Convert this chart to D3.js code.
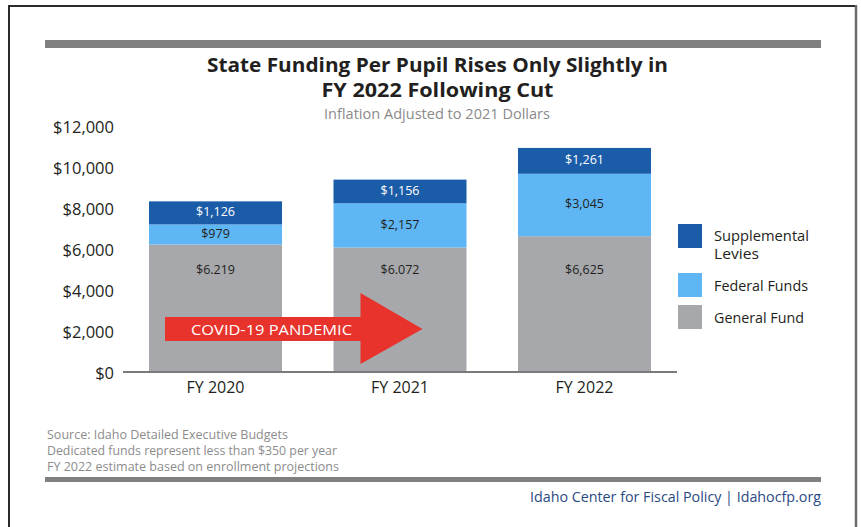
<!DOCTYPE html>
<html>
<head>
<meta charset="utf-8">
<script src="https://cdn.jsdelivr.net/npm/d3@7"></script>
<style>
  html, body { margin: 0; padding: 0; background: #fff; }
  svg { display: block; font-family: "Open Sans", "Noto Sans", sans-serif; }
</style>
</head>
<body>
<svg id="chart" width="861" height="527"></svg>
<script>
// Per-pupil state funding, inflation adjusted to 2021 dollars
const years = ["FY 2020", "FY 2021", "FY 2022"];
const generalFund = [6219, 6072, 6625];
const federalFunds = [979, 2157, 3045];
const supplementalLevies = [1126, 1156, 1261];

// Value labels as printed on the bars
const generalLabels = ["$6.219", "$6.072", "$6,625"];
const federalLabels = ["$979", "$2,157", "$3,045"];
const leviesLabels = ["$1,126", "$1,156", "$1,261"];

const yTicks = [0, 2000, 4000, 6000, 8000, 10000, 12000];

const seriesNames = ["General Fund", "Federal Funds", "Supplemental Levies"];
const seriesColors = ["#a7a8ab", "#5eb6f5", "#1b5ca9"];

const titleLines = ["State Funding Per Pupil Rises Only Slightly in", "FY 2022 Following Cut"];
const subtitle = "Inflation Adjusted to 2021 Dollars";
const notes = [
  "Source: Idaho Detailed Executive Budgets",
  "Dedicated funds represent less than $350 per year",
  "FY 2022 estimate based on enrollment projections"
];
const credit = "Idaho Center for Fiscal Policy | Idahocfp.org";
const arrowText = "COVID-19 PANDEMIC";

const svg = d3.select("#chart");

// squeeze text to a given rendered width
function fit(sel, w) {
  sel.attr("textLength", w).attr("lengthAdjust", "spacingAndGlyphs");
  return sel;
}

// frame
svg.append("line").attr("x1", 9).attr("x2", 857).attr("y1", 6).attr("y2", 6)
  .attr("stroke", "#2b2b2b").attr("stroke-width", 2);
svg.append("line").attr("x1", 9).attr("x2", 9).attr("y1", 5).attr("y2", 527)
  .attr("stroke", "#2b2b2b").attr("stroke-width", 2);
svg.append("line").attr("x1", 856).attr("x2", 856).attr("y1", 5).attr("y2", 527)
  .attr("stroke", "#6a6a6a").attr("stroke-width", 2.5);

// header rule
svg.append("rect").attr("x", 45).attr("y", 40).attr("width", 776).attr("height", 8).attr("fill", "#808080");

// title
const titleY = [72, 97];
const titleW = [461, 232];
titleLines.forEach((t, i) => {
  fit(svg.append("text")
    .attr("x", 437.5).attr("y", titleY[i])
    .attr("text-anchor", "middle")
    .attr("font-size", 20).attr("font-weight", 700)
    .attr("fill", "#231f20")
    .text(t), titleW[i]);
});
fit(svg.append("text")
  .attr("x", 437).attr("y", 119)
  .attr("text-anchor", "middle")
  .attr("font-size", 14).attr("fill", "#8a8a8a")
  .text(subtitle), 226);

// scales
const x = d3.scaleBand().domain(years).range([123, 677]).paddingInner(0.279).paddingOuter(0.141);
const y = d3.scaleLinear().domain([0, 12000]).range([372, 126]);

// stacked data
const rows = years.map((yr, i) => ({
  year: yr,
  "General Fund": generalFund[i],
  "Federal Funds": federalFunds[i],
  "Supplemental Levies": supplementalLevies[i]
}));
const stack = d3.stack().keys(seriesNames)(rows);
const labelSets = [generalLabels, federalLabels, leviesLabels];
const labelColors = ["#231f20", "#231f20", "#ffffff"];

const gBars = svg.append("g");
stack.forEach((layer, si) => {
  gBars.selectAll(null).data(layer).enter().append("rect")
    .attr("x", d => x(d.data.year))
    .attr("width", x.bandwidth())
    .attr("y", d => y(d[1]))
    .attr("height", d => y(d[0]) - y(d[1]))
    .attr("fill", seriesColors[si]);
});

// baseline
svg.append("line").attr("x1", 123).attr("x2", 677)
  .attr("y1", y(0)).attr("y2", y(0))
  .attr("stroke", "#7a7a7a").attr("stroke-width", 2);

// y axis labels
const yAxis = d3.axisLeft(y).tickValues(yTicks).tickSize(0).tickPadding(9)
  .tickFormat(d => "$" + d3.format(",")(d));
const gy = svg.append("g").attr("transform", "translate(123,1.5)").call(yAxis);
gy.select(".domain").remove();
gy.selectAll("text").attr("font-size", 16.5).attr("fill", "#231f20")
  .attr("font-family", "'Open Sans', sans-serif");

// x axis labels
const xAxis = d3.axisBottom(x).tickSize(0).tickPadding(10);
const gx = svg.append("g").attr("transform", `translate(0,${y(0)})`).call(xAxis);
gx.select(".domain").remove();
gx.selectAll("text").attr("font-size", 16).attr("fill", "#231f20")
  .attr("font-family", "'Open Sans', sans-serif");

// value labels: general fund labels sit at a common height, others centered in segment
stack.forEach((layer, si) => {
  svg.selectAll(null).data(layer).enter().append("text")
    .attr("x", d => x(d.data.year) + x.bandwidth() / 2)
    .attr("y", d => si === 0 ? y(5000) : y((d[0] + d[1]) / 2) - 1)
    .attr("dy", "0.35em")
    .attr("text-anchor", "middle")
    .attr("font-size", 12.5)
    .attr("fill", labelColors[si])
    .text((d, i) => labelSets[si][i]);
});

// COVID-19 arrow spanning from FY 2020 into FY 2021
const ax0 = x("FY 2020") + 16;
const axHead = x("FY 2021") + 27;
const axTip = x("FY 2021") + 89;
const ayMid = 329;
const arrow = d3.path();
arrow.moveTo(ax0, ayMid - 12);
arrow.lineTo(axHead, ayMid - 12);
arrow.lineTo(axHead, ayMid - 36);
arrow.lineTo(axTip, ayMid);
arrow.lineTo(axHead, ayMid + 35);
arrow.lineTo(axHead, ayMid + 12);
arrow.lineTo(ax0, ayMid + 12);
arrow.closePath();
svg.append("path").attr("d", arrow.toString()).attr("fill", "#e8332d");
fit(svg.append("text")
  .attr("x", 191).attr("y", ayMid + 5.5)
  .attr("font-size", 15).attr("fill", "#ffffff")
  .text(arrowText), 161);

// legend
const legendOrder = [2, 1, 0];
const legendY = [224, 273, 305];
const legendText = [["Supplemental", "Levies"], ["Federal Funds"], ["General Fund"]];
const legendTextY = [[241, 259], [291], [323]];
const legendW = [[95, 45], [94], [90]];
legendOrder.forEach((si, k) => {
  svg.append("rect").attr("x", 678).attr("y", legendY[k])
    .attr("width", 24).attr("height", 24).attr("fill", seriesColors[si]);
  legendText[k].forEach((t, j) => {
    fit(svg.append("text")
      .attr("x", 714).attr("y", legendTextY[k][j])
      .attr("font-size", 14.5).attr("fill", "#231f20")
      .text(t), legendW[k][j]);
  });
});

// footnotes
const noteY = [439, 455, 471];
const noteW = [241, 290, 292];
notes.forEach((t, i) => {
  fit(svg.append("text")
    .attr("x", 47).attr("y", noteY[i])
    .attr("font-size", 12.5).attr("fill", "#8c8c8c")
    .text(t), noteW[i]);
});

// footer rule and credit
svg.append("rect").attr("x", 45).attr("y", 477).attr("width", 776).attr("height", 5).attr("fill", "#808080");
fit(svg.append("text")
  .attr("x", 821).attr("y", 502)
  .attr("text-anchor", "end")
  .attr("font-size", 15).attr("fill", "#2a4a82")
  .text(credit), 291);
</script>
</body>
</html>
